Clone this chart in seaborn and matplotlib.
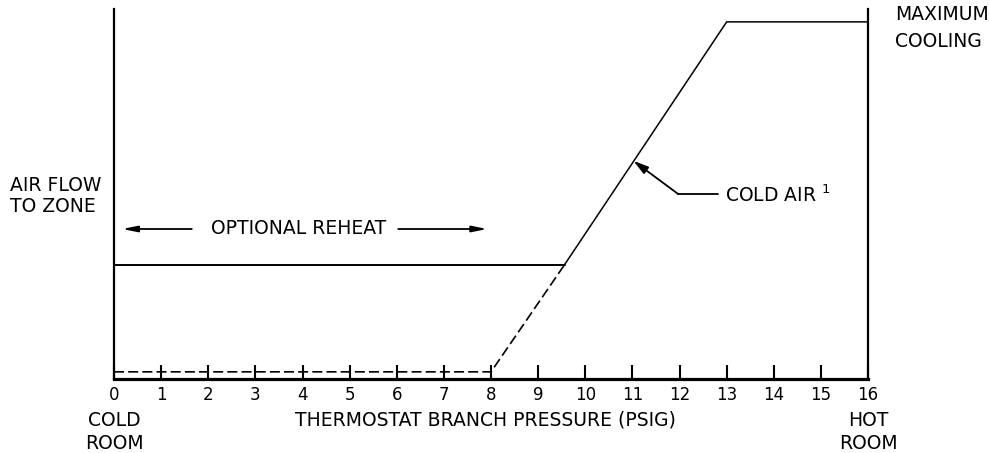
import matplotlib
matplotlib.use("Agg")
import matplotlib.pyplot as plt
import seaborn as sns
import pandas as pd

# ---- data ----
tick_values = list(range(0, 17))
tick_labels = [str(v) for v in tick_values]

cooling_x = [9.56, 13, 16]          # solid cold-air flow line
cooling_y = [32, 100, 100]
minimum_x = [0, 8, 9.56]            # dashed minimum flow / ramp
minimum_y = [2, 2, 32]
reheat_x = [0, 9.56]                # optional reheat flow
reheat_y = [32, 32]

sns.set_style("white")
plt.rcParams['font.family'] = ['DejaVu Sans']
plt.rcParams['text.color'] = 'black'

fig = plt.figure(figsize=(9.89, 4.53), dpi=100)
ax = fig.add_axes([0.1153, 0.1634, 0.7624, 0.8167])

df_cool = pd.DataFrame({"x": cooling_x, "y": cooling_y})
df_min = pd.DataFrame({"x": minimum_x, "y": minimum_y})
df_reh = pd.DataFrame({"x": reheat_x, "y": reheat_y})

sns.lineplot(data=df_cool, x="x", y="y", ax=ax, color="black", lw=1.1,
             estimator=None, sort=False)
sns.lineplot(data=df_reh, x="x", y="y", ax=ax, color="black", lw=1.4,
             estimator=None, sort=False)
sns.lineplot(data=df_min, x="x", y="y", ax=ax, color="black", lw=1.2,
             estimator=None, sort=False, linestyle=(0, (6, 2.5)))

ax.set_xlim(0, 16)
ax.set_ylim(0, 103.6)
ax.set_xlabel("")
ax.set_ylabel("")
ax.set_yticks([])
ax.set_xticks(tick_values)
ax.set_xticklabels(tick_labels)
ax.tick_params(axis='x', bottom=True, direction='in', length=10, width=1.5,
               labelsize=12, pad=5, colors='black', labelcolor='black')

ax.spines['top'].set_visible(False)
ax.spines['bottom'].set_linewidth(2.3)
ax.spines['left'].set_linewidth(1.6)
ax.spines['right'].set_linewidth(1.6)
for s in ('bottom', 'left', 'right'):
    ax.spines[s].set_color('black')

fs = 13.5
tk = dict(fontsize=fs, color='black', clip_on=False)
# axis texts
ax.text(-2.21, 54.3, "AIR FLOW", ha='left', va='center', **tk)
ax.text(-2.21, 48.2, "TO ZONE", ha='left', va='center', **tk)
ax.text(16.58, 102, "MAXIMUM", ha='left', va='center', **tk)
ax.text(16.58, 94.4, "COOLING", ha='left', va='center', **tk)
ax.text(0, -11.5, "COLD", ha='center', va='center', **tk)
ax.text(0, -18.0, "ROOM", ha='center', va='center', **tk)
ax.text(16, -11.5, "HOT", ha='center', va='center', **tk)
ax.text(16, -18.0, "ROOM", ha='center', va='center', **tk)
ax.text(7.88, -11.5, "THERMOSTAT BRANCH PRESSURE (PSIG)",
        ha='center', va='center', **tk)

# optional reheat annotation
ax.text(3.92, 42, "OPTIONAL REHEAT", ha='center', va='center', **tk)
astyle = dict(arrowstyle='-|>,head_length=0.9,head_width=0.18', lw=1.3,
              color='black', shrinkA=0, shrinkB=0)
ax.annotate('', xy=(0.17, 42), xytext=(1.65, 42), arrowprops=astyle)
ax.annotate('', xy=(7.92, 42), xytext=(6.03, 42), arrowprops=astyle)

# cold air annotation
ax.annotate('', xy=(11.02, 61.1), xytext=(11.97, 51.8),
            arrowprops=dict(arrowstyle='-|>,head_length=0.9,head_width=0.25',
                            lw=1.3, color='black', shrinkA=0, shrinkB=0))
ax.plot([11.97, 12.82], [51.8, 51.8], color='black', lw=1.3)
ax.text(12.97, 51.5, "COLD AIR $^{1}$", ha='left', va='center', **tk)

fig.savefig("out.png", dpi=100)
